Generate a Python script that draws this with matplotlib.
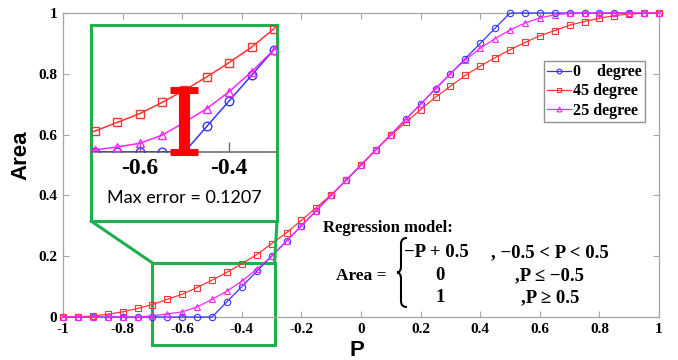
import matplotlib
matplotlib.use('Agg')
import matplotlib.pyplot as plt
from matplotlib.patches import Rectangle, ConnectionPatch, PathPatch
from matplotlib.path import Path
from matplotlib.font_manager import FontProperties

# ---- data ----
P = [-1.0, -0.95, -0.9, -0.85, -0.8, -0.75, -0.7, -0.65, -0.6, -0.55,
     -0.5, -0.45, -0.4, -0.35, -0.3, -0.25, -0.2, -0.15, -0.1, -0.05,
     0.0, 0.05, 0.1, 0.15, 0.2, 0.25, 0.3, 0.35, 0.4, 0.45,
     0.5, 0.55, 0.6, 0.65, 0.7, 0.75, 0.8, 0.85, 0.9, 0.95, 1.0]
area_0deg = [0, 0, 0, 0, 0, 0, 0, 0, 0, 0,
             0.00, 0.05, 0.10, 0.15, 0.20, 0.25, 0.30, 0.35, 0.40, 0.45,
             0.50, 0.55, 0.60, 0.65, 0.70, 0.75, 0.80, 0.85, 0.90, 0.95,
             1.00, 1, 1, 1, 1, 1, 1, 1, 1, 1, 1]
area_45deg = [0.000, 0.001, 0.003, 0.009, 0.017, 0.028, 0.041, 0.058, 0.075, 0.097,
              0.121, 0.147, 0.175, 0.205, 0.241, 0.277, 0.318, 0.360, 0.402, 0.450,
              0.500, 0.550, 0.598, 0.640, 0.682, 0.723, 0.759, 0.795, 0.825, 0.853,
              0.879, 0.903, 0.925, 0.942, 0.960, 0.972, 0.983, 0.991, 0.997, 0.999, 1.000]
area_25deg = [0, 0, 0, 0, 0, 0, 0.004, 0.010, 0.017, 0.033,
              0.058, 0.085, 0.118, 0.157, 0.200, 0.250, 0.300, 0.350, 0.400, 0.450,
              0.500, 0.550, 0.600, 0.650, 0.700, 0.752, 0.800, 0.846, 0.884, 0.916,
              0.944, 0.967, 0.984, 0.994, 0.999, 1, 1, 1, 1, 1, 1]
max_error = 0.1207

series_labels = ['0    degree', '45 degree', '25 degree']
x_ticks = [-1, -0.8, -0.6, -0.4, -0.2, 0, 0.2, 0.4, 0.6, 0.8, 1]
x_tick_labels = ['-1', '-0.8', '-0.6', '-0.4', '-0.2', '0', '0.2', '0.4', '0.6', '0.8', '1']
y_ticks = [0, 0.2, 0.4, 0.6, 0.8, 1]
y_tick_labels = ['0', '0.2', '0.4', '0.6', '0.8', '1']
inset_ticks = [-0.6, -0.4]
inset_tick_labels = ['-0.6', '-0.4']

# ---- styles ----
colors = ['#3535ff', '#ff3535', '#ff25ff']
markers = ['o', 's', '^']
green = '#1faf4e'
spine_gray = '#a5a5a5'
serif_bold = dict(family='Liberation Serif', weight='bold')

W, H = 678, 360
fig = plt.figure(figsize=(W / 100, H / 100), dpi=100)


def fx(px):
    return px / W


def fy(py):
    return 1 - py / H


# ---- main axes ----
ax = fig.add_axes([fx(63), fy(317), fx(659) - fx(63), fy(13) - fy(317)])
for y, c, m, lab in zip([area_0deg, area_45deg, area_25deg], colors, markers, series_labels):
    ax.plot(P, y, color=c, lw=0.9, marker=m, ms=4.6, mfc='none', mec=c, mew=0.8,
            label=lab, clip_on=False, zorder=3)

ax.set_xlim(-1, 1)
ax.set_ylim(0, 1)
ax.set_xticks(x_ticks)
ax.set_xticklabels(x_tick_labels, fontsize=11, **serif_bold)
ax.set_yticks(y_ticks)
ax.set_yticklabels(y_tick_labels, fontsize=11, **serif_bold)
ax.tick_params(direction='in', top=True, right=True, length=4, width=0.8,
               color=spine_gray, pad=4)
for s in ax.spines.values():
    s.set_color(spine_gray)
    s.set_linewidth(0.9)

leg = ax.legend(loc='upper left', bbox_to_anchor=(0.807, 0.842), borderaxespad=0,
                prop=FontProperties(size=11.6, **serif_bold), handlelength=1.45,
                handletextpad=0.15, fancybox=False, edgecolor='#909090', framealpha=1,
                borderpad=0.2, labelspacing=0.2, markerscale=0.75)
leg.get_frame().set_linewidth(1.0)

fig.text(fx(21), fy(155), 'Area', rotation=90, ha='center', va='center',
         family='Liberation Sans', weight='bold', fontsize=16)
fig.text(fx(357), fy(350), 'P', ha='center', va='center',
         family='Liberation Sans', weight='bold', fontsize=16)

# ---- regression model text ----
fig.text(fx(323), fy(232), 'Regression model:', ha='left', va='baseline',
         fontsize=12, **serif_bold)
fig.text(fx(336), fy(280), 'Area =', ha='left', va='baseline', fontsize=12.5, **serif_bold)
fig.text(fx(404), fy(257), '\u2212P + 0.5', ha='left', va='baseline', fontsize=13.5, **serif_bold)
fig.text(fx(440), fy(280), '0', ha='center', va='baseline', fontsize=13.5, **serif_bold)
fig.text(fx(440), fy(302), '1', ha='center', va='baseline', fontsize=13.5, **serif_bold)
fig.text(fx(491), fy(257), ', \u22120.5 < P < 0.5', ha='left', va='baseline', fontsize=13.5, **serif_bold)
fig.text(fx(515), fy(280), ',P \u2264 \u22120.5', ha='left', va='baseline', fontsize=13.5, **serif_bold)
fig.text(fx(521), fy(302), ',P \u2265 0.5', ha='left', va='baseline', fontsize=13.5, **serif_bold)

# curly brace
bx, btop, bbot, bw = 397, 238, 307, 10
bmid = (btop + bbot) / 2
stem = bx + 4
verts = [(bx + bw, btop), (bx + 6, btop), (stem, btop + 2), (stem, btop + 6),
         (stem, bmid - 6),
         (stem, bmid - 2), (bx + 2, bmid), (bx, bmid),
         (bx + 2, bmid), (stem, bmid + 2), (stem, bmid + 6),
         (stem, bbot - 6),
         (stem, bbot - 2), (bx + 6, bbot), (bx + bw, bbot)]
codes = [Path.MOVETO, Path.CURVE4, Path.CURVE4, Path.CURVE4,
         Path.LINETO,
         Path.CURVE4, Path.CURVE4, Path.CURVE4,
         Path.CURVE4, Path.CURVE4, Path.CURVE4,
         Path.LINETO,
         Path.CURVE4, Path.CURVE4, Path.CURVE4]
brace = Path([(fx(a), fy(b)) for a, b in verts], codes)
fig.patches.append(PathPatch(brace, transform=fig.transFigure, fill=False,
                             lw=1.5, edgecolor='black', figure=fig))

# ---- zoom box on main axes ----
zoom_x0, zoom_x1 = -0.7, -0.29
zoom_y0, zoom_y1 = -0.092, 0.178
ax.add_patch(Rectangle((zoom_x0, zoom_y0), zoom_x1 - zoom_x0, zoom_y1 - zoom_y0,
                       fill=False, edgecolor=green, lw=2.2, clip_on=False, zorder=2))

# ---- inset ----
box_l, box_r, box_t, box_b = 91, 277, 25, 221
fig.patches.append(Rectangle((fx(box_l), fy(box_b)), fx(box_r) - fx(box_l), fy(box_t) - fy(box_b),
                             transform=fig.transFigure, facecolor='white', edgecolor=green,
                             lw=2.2, zorder=2, figure=fig))

ax_in = fig.add_axes([fx(box_l), fy(152), fx(box_r) - fx(box_l), fy(box_t) - fy(152)])
ax_in.set_zorder(5)
ax_in.patch.set_alpha(0)
for y, c, m in zip([area_0deg, area_45deg, area_25deg], colors, markers):
    ax_in.plot(P, y, color=c, lw=1.1, marker=m, ms=6.2, mfc='none', mec=c, mew=1.0, zorder=3)
eb = ax_in.errorbar([-0.5], [max_error / 2], yerr=[max_error / 2], fmt='none',
                    ecolor='#ff0000', elinewidth=8, capsize=10, capthick=5, zorder=10)
for art in eb.lines[1] + eb.lines[2]:
    art.set_clip_on(False)
ax_in.set_xlim(-0.709, -0.293)
ax_in.set_ylim(0, 0.2485)
ax_in.set_xticks(inset_ticks)
ax_in.set_xticklabels(inset_tick_labels, fontsize=17, **serif_bold)
ax_in.set_yticks([])
ax_in.tick_params(axis='x', direction='in', length=7, width=1, color='#707070', pad=4)
for side in ['left', 'top', 'right']:
    ax_in.spines[side].set_visible(False)
ax_in.spines['bottom'].set_color('#707070')
ax_in.spines['bottom'].set_linewidth(1.2)

fig.text(fx(184), fy(198), 'Max error = 0.1207', ha='center', va='center',
         family='Lato', fontsize=13)

# connectors from the zoom box to the inset
for fxa, xb in [(fx(box_l), zoom_x0), (fx(box_r), zoom_x1)]:
    con = ConnectionPatch(xyA=(fxa, fy(box_b)), coordsA='figure fraction',
                          xyB=(xb, zoom_y1), coordsB='data', axesB=ax,
                          color=green, lw=2.2, zorder=2)
    fig.add_artist(con)

fig.savefig('out.png', dpi=100)
